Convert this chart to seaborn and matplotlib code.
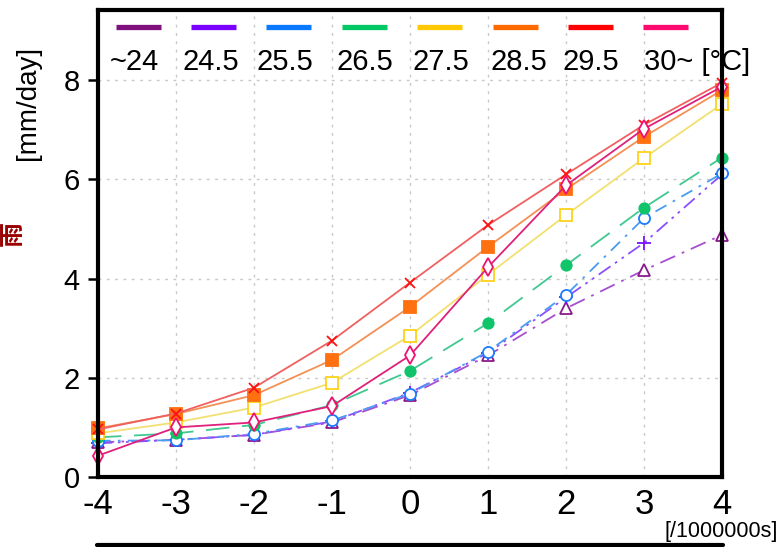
import matplotlib
matplotlib.use("Agg")
import matplotlib.pyplot as plt
import seaborn as sns
import numpy as np
import pandas as pd

sns.set_theme(style="white")
plt.rcParams['font.family'] = ['Liberation Sans', 'DejaVu Sans']

# ---------------- data ----------------
x_vals = [-4, -3, -2, -1, 0, 1, 2, 3, 4]
labels = ["~24", "24.5", "25.5", "26.5", "27.5", "28.5", "29.5", "30~ [\u00b0C]"]
t24  = [0.70, 0.75, 0.85, 1.10, 1.65, 2.45, 3.40, 4.17, 4.88]
t245 = [0.68, 0.75, 0.85, 1.12, 1.70, 2.50, 3.62, 4.72, 6.10]
t255 = [0.73, 0.74, 0.87, 1.14, 1.68, 2.53, 3.67, 5.22, 6.12]
t265 = [0.80, 0.88, 1.05, 1.45, 2.14, 3.10, 4.27, 5.43, 6.44]
t275 = [0.88, 1.10, 1.40, 1.90, 2.85, 4.08, 5.28, 6.43, 7.52]
t285 = [0.98, 1.27, 1.65, 2.36, 3.43, 4.64, 5.80, 6.86, 7.80]
t295 = [0.96, 1.28, 1.80, 2.75, 3.92, 5.08, 6.10, 7.10, 7.95]
t30  = [0.43, 1.00, 1.10, 1.43, 2.45, 4.23, 5.88, 7.02, 7.87]
series = [t24, t245, t255, t265, t275, t285, t295, t30]
x_ticks = [-4, -3, -2, -1, 0, 1, 2, 3, 4]
y_ticks = [0, 2, 4, 6, 8]

# ---------------- styles ----------------
mark_colors = ["#8a1a8c", "#7a10ff", "#1a7cff", "#10c46a", "#ffd21a", "#ff7010", "#ff1010", "#f01070"]
line_colors = ["#a64fd0", "#8a50ff", "#4a9cf0", "#40c890", "#f2e070", "#f59055", "#f06060", "#e0207a"]
legend_colors = ["#80107e", "#7a00ff", "#0a78ff", "#00c864", "#ffc800", "#ff6a00", "#ff0000", "#ff0a6e"]
markers = ["^", "+", "o", "o", "s", "s", "x", "d"]
filled = [False, False, False, True, False, True, False, False]
linestyles = [(0, (9, 4, 1.5, 4)), (0, (8, 3, 1.5, 3, 1.5, 3)), (0, (7, 4, 1.5, 4)),
              (0, (13, 7)), "-", "-", "-", "-"]
msizes = [8, 10, 8, 7.5, 8.5, 8, 7, 9]

W, H = 779, 547
fig = plt.figure(figsize=(W / 100, H / 100), dpi=100)
L, R, T, B = 98, 722, 10, 477
ax = fig.add_axes([L / W, (H - B) / H, (R - L) / W, (B - T) / H])

df = pd.DataFrame({"x": x_vals})
for i, vals in enumerate(series):
    df["v"] = vals
    sns.lineplot(data=df, x="x", y="v", ax=ax, color=line_colors[i], lw=1.3,
                 linestyle=linestyles[i], marker=markers[i], markersize=msizes[i],
                 markerfacecolor=(mark_colors[i] if filled[i] else "white"),
                 markeredgecolor=mark_colors[i], markeredgewidth=1.3,
                 errorbar=None, sort=False, zorder=3 + i * 0.1, clip_on=False)

ax.set_xlim(-4, 4)
ax.set_ylim(0, (B - T) / 49.6)
ax.set_xticks(x_ticks)
ax.set_xticklabels([str(v) for v in x_ticks])
ax.set_yticks(y_ticks)
ax.set_yticklabels([str(v) for v in y_ticks])
ax.set_xlabel("")
ax.set_ylabel("")
ax.tick_params(axis="x", length=0, pad=8, labelsize=25, colors="black")
ax.tick_params(axis="y", length=7, width=1.8, pad=6, labelsize=21, colors="black", left=True)
ax.grid(True, color="#c8c8c8", linestyle=(0, (2, 4)), linewidth=1.0)
for s in ax.spines.values():
    s.set_color("black")
    s.set_linewidth(3)
    s.set_zorder(10)

# legend drawn manually
def fx(px):
    return (px - L) / (R - L)

def fy(py):
    return (B - py) / (B - T)

seg_starts = [116, 191, 266, 342, 417, 493, 568, 643]
lab_starts = [110, 183, 256, 337, 412, 491, 563, 644]
for i in range(8):
    ax.plot([fx(seg_starts[i]), fx(seg_starts[i] + 45)], [fy(27), fy(27)],
            transform=ax.transAxes, color=legend_colors[i], lw=3.8,
            solid_capstyle="butt", clip_on=False, zorder=5)
    ax.text(fx(lab_starts[i]), fy(62), labels[i], transform=ax.transAxes,
            ha="left", va="center", fontsize=21, color="black", zorder=1, clip_on=False)

fig.text(28 / W, 1 - 103 / H, "[mm/day]", rotation=90, ha="center", va="center",
         fontsize=20, color="black")
fig.text(13 / W, 1 - 233 / H, "\u96e8", rotation=90, ha="center", va="center",
         fontsize=18, color="#9a0000", family=["Noto Sans CJK JP", "DejaVu Sans"],
         fontweight="bold")
fig.text(778 / W, 1 - 532 / H, "[/1000000s]", ha="right", va="center",
         fontsize=15.5, color="black")
fig.add_artist(plt.Line2D([97 / W, 723 / W], [1 - 545 / H, 1 - 545 / H],
                          color="black", lw=3, transform=fig.transFigure))

fig.savefig("out.png", dpi=100)
